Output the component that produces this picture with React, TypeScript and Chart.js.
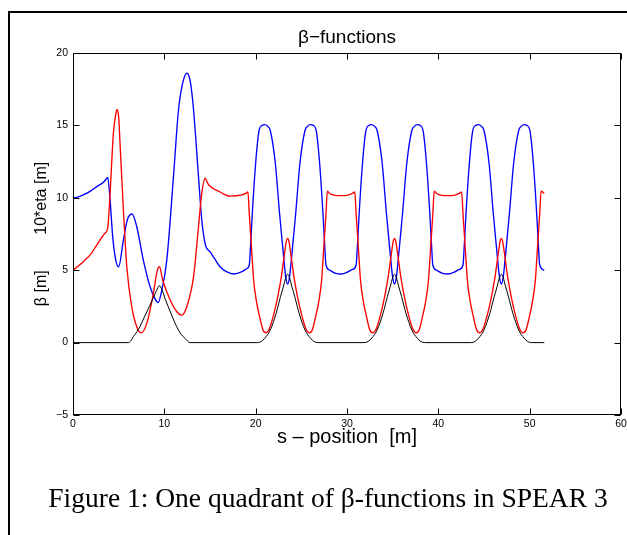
import React, { useEffect, useRef } from "react";
import { Chart, registerables } from "chart.js";

Chart.register(...registerables);

// s-positions [m] and beta_x (blue)
const sBetaX = [
  0, 0.5, 1.13, 2.0, 2.6, 3.33, 3.65, 3.8, 4.06, 4.35, 4.68, 5.0, 5.52, 5.96, 6.47, 6.98, 7.7, 8.44, 9.0, 9.32,
  9.65, 10.27, 11.0, 11.55, 12.0, 12.46, 12.85, 13.2, 13.74, 14.1, 14.5, 15.0, 15.5, 16.1, 16.8, 17.6, 18.5, 19.0,
  19.3, 19.45, 19.63, 20.0, 20.36, 20.7, 21.0, 21.3, 21.6, 22.15, 22.62, 23.02, 23.3, 23.5, 23.7, 23.98, 24.38,
  24.85, 25.4, 25.7, 26.0, 26.3, 26.64, 27.0, 27.37, 27.55, 27.7, 28.1, 28.7, 29.35, 30.0, 30.6,
  31.0, 31.15, 31.33, 31.7, 32.06, 32.4, 32.7, 33.0, 33.3, 33.85, 34.32, 34.72, 35.0, 35.2, 35.4, 35.68, 36.08,
  36.55, 37.1, 37.4, 37.7, 38.0, 38.34, 38.7, 39.07, 39.25, 39.4, 39.8, 40.4, 41.05, 41.7, 42.3,
  42.7, 42.85, 43.03, 43.4, 43.76, 44.1, 44.4, 44.7, 45.0, 45.55, 46.02, 46.42, 46.7, 46.9, 47.1, 47.38, 47.78,
  48.25, 48.8, 49.1, 49.4, 49.7, 50.04, 50.4, 50.77, 50.95, 51.1, 51.6,
];
const betaX = [
  10.0, 10.05, 10.2, 10.5, 10.77, 11.07, 11.3, 11.4, 9.85, 7.3, 5.7, 5.24, 7.1, 8.5, 8.88, 8.0, 5.7, 3.86, 3.0, 2.76,
  3.4, 5.7, 11.46, 16.06, 17.9, 18.6, 18.0, 16.06, 11.46, 8.47, 6.74, 6.28, 5.8, 5.24, 4.9, 4.74, 4.9, 5.1,
  5.36, 6.8, 8.9, 12.4, 14.6, 15.0, 15.05, 14.95, 14.65, 12.4, 8.9, 6.2, 4.5, 4.05, 4.5, 6.2, 8.9,
  12.4, 14.65, 14.95, 15.05, 15.0, 14.6, 12.4, 8.9, 6.8, 5.36, 5.0, 4.8, 4.74, 4.85, 5.05,
  5.36, 6.8, 8.9, 12.4, 14.6, 15.0, 15.05, 14.95, 14.65, 12.4, 8.9, 6.2, 4.5, 4.05, 4.5, 6.2, 8.9,
  12.4, 14.65, 14.95, 15.05, 15.0, 14.6, 12.4, 8.9, 6.8, 5.36, 5.0, 4.8, 4.74, 4.85, 5.05,
  5.36, 6.8, 8.9, 12.4, 14.6, 15.0, 15.05, 14.95, 14.65, 12.4, 8.9, 6.2, 4.5, 4.05, 4.5, 6.2, 8.9,
  12.4, 14.65, 14.95, 15.05, 15.0, 14.6, 12.4, 8.9, 6.8, 5.36, 5.0,
];

// s-positions [m] and beta_y (red)
const sBetaY = [
  0, 1.13, 2.0, 2.6, 3.5, 3.8, 4.06, 4.42, 4.64, 4.82, 5.0, 5.15, 5.52, 5.89, 6.43, 6.98, 7.46, 8.08, 8.8, 9.2,
  9.47, 9.82, 10.64, 11.37, 11.9, 12.46, 13.2, 13.74, 14.1, 14.47, 14.75, 15.0, 16.1, 17.2, 18.5, 18.9,
  19.15, 19.3, 19.55, 19.78, 20.1, 20.36, 20.8, 21.15, 21.5, 22.0, 22.4, 22.8, 23.15, 23.35, 23.5, 23.65, 23.85,
  24.2, 24.6, 25.0, 25.5, 25.85, 26.2, 26.64, 26.9, 27.22, 27.45, 27.7, 27.85, 28.1, 28.7, 29.35, 30.0, 30.6,
  30.85, 31.0, 31.25, 31.48, 31.8, 32.06, 32.5, 32.85, 33.2, 33.7, 34.1, 34.5, 34.85, 35.05, 35.2, 35.35, 35.55,
  35.9, 36.3, 36.7, 37.2, 37.55, 37.9, 38.34, 38.6, 38.92, 39.15, 39.4, 39.55, 39.8, 40.4, 41.05, 41.7, 42.3,
  42.55, 42.7, 42.95, 43.18, 43.5, 43.76, 44.2, 44.55, 44.9, 45.4, 45.8, 46.2, 46.55, 46.75, 46.9, 47.05, 47.25,
  47.6, 48.0, 48.4, 48.9, 49.25, 49.6, 50.04, 50.3, 50.62, 50.85, 51.1, 51.25, 51.6,
];
const betaY = [
  5.0, 5.59, 6.15, 6.74, 7.55, 7.9, 10.3, 14.45, 15.6, 16.1, 15.6, 13.76, 9.16, 5.24, 2.48, 1.1, 0.68, 1.33, 3.4, 4.9,
  5.24, 4.32, 2.94, 2.13, 1.9, 2.48, 4.55, 8.0, 10.3, 11.35, 11.0, 10.8, 10.4, 10.12, 10.2, 10.3,
  10.4, 8.9, 6.5, 4.3, 2.8, 2.0, 0.87, 0.68, 0.95, 2.0, 3.1, 4.5, 6.1, 6.95, 7.2, 6.95, 6.1,
  4.5, 3.1, 2.0, 0.95, 0.68, 0.87, 2.0, 2.8, 4.3, 6.5, 8.9, 10.45, 10.3, 10.17, 10.15, 10.17, 10.3,
  10.4, 8.9, 6.5, 4.3, 2.8, 2.0, 0.87, 0.68, 0.95, 2.0, 3.1, 4.5, 6.1, 6.95, 7.2, 6.95, 6.1,
  4.5, 3.1, 2.0, 0.95, 0.68, 0.87, 2.0, 2.8, 4.3, 6.5, 8.9, 10.45, 10.3, 10.17, 10.15, 10.17, 10.3,
  10.4, 8.9, 6.5, 4.3, 2.8, 2.0, 0.87, 0.68, 0.95, 2.0, 3.1, 4.5, 6.1, 6.95, 7.2, 6.95, 6.1,
  4.5, 3.1, 2.0, 0.95, 0.68, 0.87, 2.0, 2.8, 4.3, 6.5, 8.9, 10.45, 10.3,
];

// s-positions [m] and 10*eta (black)
const sEta = [
  0, 6.07, 6.3, 6.6, 7.0, 7.33, 7.8, 8.35, 8.8, 9.15, 9.45, 9.75, 10.1, 10.43, 10.9, 11.35, 11.8, 12.25, 12.55, 12.8,
  20.2, 20.6, 21.0, 21.6, 22.24, 22.72, 23.05, 23.3, 23.5, 23.7, 23.95, 24.28, 24.76, 25.4, 26.0, 26.4, 26.8,
  31.9, 32.3, 32.7, 33.3, 33.94, 34.42, 34.75, 35.0, 35.2, 35.4, 35.65, 35.98, 36.46, 37.1, 37.7, 38.1, 38.5,
  43.6, 44.0, 44.4, 45.0, 45.64, 46.12, 46.45, 46.7, 46.9, 47.1, 47.35, 47.68, 48.16, 48.8, 49.4, 49.8, 50.2, 51.6,
];
const eta10 = [
  0, 0, 0.1, 0.4, 0.75, 1.1, 1.75, 2.48, 3.1, 3.6, 3.93, 3.65, 3.0, 2.48, 1.75, 1.1, 0.6, 0.3, 0.1, 0,
  0, 0.07, 0.3, 0.87, 2.02, 3.17, 3.9, 4.5, 4.72, 4.5, 3.9, 3.17, 2.02, 0.87, 0.3, 0.07, 0,
  0, 0.07, 0.3, 0.87, 2.02, 3.17, 3.9, 4.5, 4.72, 4.5, 3.9, 3.17, 2.02, 0.87, 0.3, 0.07, 0,
  0, 0.07, 0.3, 0.87, 2.02, 3.17, 3.9, 4.5, 4.72, 4.5, 3.9, 3.17, 2.02, 0.87, 0.3, 0.07, 0, 0,
];

const xTickValues = [0, 10, 20, 30, 40, 50, 60];
const yTickValues = [-5, 0, 5, 10, 15, 20];

const titleText = "β\u2212functions";
const xTitle = "s \u2013 position  [m]";
const yTitle = "β [m]        10*eta [m]";
const caption = "Figure 1: One quadrant of β-functions in SPEAR 3";

const SANS = "'Liberation Sans', Arial, Helvetica, sans-serif";

const toPts = (xs: number[], ys: number[]) => xs.map((x, i) => ({ x, y: ys[i] }));

const frameTicks = {
  id: "frameTicks",
  afterDatasetsDraw(chart: any) {
    const { ctx, chartArea: a, scales } = chart;
    const xs = scales.x;
    const ys = scales.y;
    ctx.save();
    ctx.strokeStyle = "#000";
    ctx.lineWidth = 1;
    const L = Math.round(a.left) + 0.5;
    const R = Math.round(a.right) - 0.5;
    const T = Math.round(a.top) + 0.5;
    const B = Math.round(a.bottom) - 0.5;
    ctx.strokeRect(L, T, R - L, B - T);
    const len = 6;
    ctx.beginPath();
    for (const t of xs.ticks) {
      const px = Math.round(xs.getPixelForValue(t.value)) + 0.5;
      ctx.moveTo(px, B);
      ctx.lineTo(px, B - len);
      ctx.moveTo(px, T);
      ctx.lineTo(px, T + len);
    }
    for (const t of ys.ticks) {
      const py = Math.round(ys.getPixelForValue(t.value)) + 0.5;
      ctx.moveTo(L, py);
      ctx.lineTo(L + len, py);
      ctx.moveTo(R, py);
      ctx.lineTo(R - len, py);
    }
    ctx.stroke();
    ctx.restore();
  },
};

export default function App() {
  const ref = useRef<HTMLCanvasElement | null>(null);

  useEffect(() => {
    if (!ref.current) return;
    const chart = new Chart(ref.current, {
      type: "line",
      data: {
        datasets: [
          {
            label: "10*eta",
            data: toPts(sEta, eta10),
            borderColor: "#000000",
            borderWidth: 1,
            pointRadius: 0,
            cubicInterpolationMode: "monotone",
            order: 0,
          },
          {
            label: "beta_y",
            data: toPts(sBetaY, betaY),
            borderColor: "#ff0000",
            borderWidth: 1.35,
            pointRadius: 0,
            cubicInterpolationMode: "monotone",
            order: 1,
          },
          {
            label: "beta_x",
            data: toPts(sBetaX, betaX),
            borderColor: "#0000ff",
            borderWidth: 1.35,
            pointRadius: 0,
            cubicInterpolationMode: "monotone",
            order: 2,
          },
        ],
      },
      options: {
        animation: false,
        responsive: false,
        devicePixelRatio: 1,
        events: [],
        layout: { padding: { left: 0, right: 19, top: 0, bottom: 0 } },
        plugins: {
          legend: { display: false },
          tooltip: { enabled: false },
          title: { display: false },
        },
        scales: {
          x: {
            type: "linear",
            min: 0,
            max: 60,
            afterBuildTicks: (s: any) => {
              s.ticks = xTickValues.map((v) => ({ value: v }));
            },
            afterFit: (s: any) => {
              s.height = 120;
            },
            grid: { display: false, drawTicks: false },
            border: { display: false },
            ticks: {
              autoSkip: false,
              maxRotation: 0,
              padding: 3,
              color: "#000",
              font: { family: SANS, size: 10.5 },
            },
            title: {
              display: true,
              text: xTitle,
              color: "#000",
              font: { family: SANS, size: 20 },
              padding: { top: 0, bottom: 86 },
            },
          },
          xTop: {
            type: "linear",
            position: "top",
            min: 0,
            max: 60,
            afterFit: (s: any) => {
              s.height = 53;
            },
            grid: { display: false, drawTicks: false },
            border: { display: false },
            ticks: { display: false },
            title: {
              display: true,
              text: titleText,
              color: "#000",
              font: { family: SANS, size: 19, lineHeight: 1 },
              padding: { top: 28, bottom: 0 },
            },
          },
          y: {
            type: "linear",
            min: -5,
            max: 20,
            afterBuildTicks: (s: any) => {
              s.ticks = yTickValues.map((v) => ({ value: v }));
            },
            afterFit: (s: any) => {
              s.width = 73;
            },
            grid: { display: false, drawTicks: false },
            border: { display: false },
            ticks: {
              padding: 5,
              color: "#000",
              font: { family: SANS, size: 10.5 },
              callback: (v: any) => String(v).replace("-", "\u2212"),
            },
            title: {
              display: true,
              text: yTitle,
              color: "#000",
              font: { family: SANS, size: 16 },
              padding: { top: 32, bottom: 0 },
            },
          },
        },
      },
      plugins: [frameTicks],
    } as any);
    return () => chart.destroy();
  }, []);

  return (
    <div
      style={{
        position: "fixed",
        left: 0,
        top: 0,
        width: 627,
        height: 535,
        overflow: "hidden",
        background: "#fff",
      }}
    >
      <canvas
        ref={ref}
        width={640}
        height={535}
        style={{ position: "absolute", left: 0, top: 0, width: 640, height: 535 }}
      />
      <div
        style={{
          position: "absolute",
          left: 8,
          top: 11,
          width: 1000,
          height: 1000,
          borderLeft: "2px solid #000",
          borderTop: "2px solid #000",
          pointerEvents: "none",
        }}
      />
      <div
        style={{
          position: "absolute",
          left: 328,
          top: 484,
          transform: "translateX(-50%)",
          whiteSpace: "nowrap",
          fontFamily: "'Liberation Serif', 'Times New Roman', serif",
          fontSize: 27.5,
          lineHeight: 1,
          color: "#000",
        }}
      >
        {caption}
      </div>
    </div>
  );
}
